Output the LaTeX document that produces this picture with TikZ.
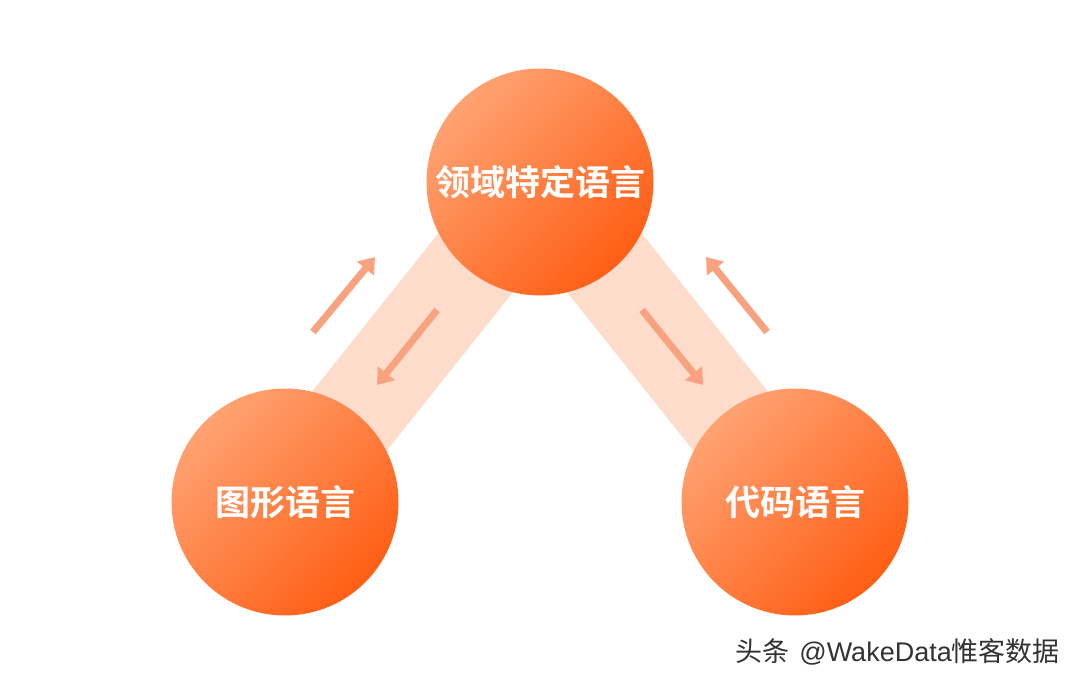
\documentclass[tikz,border=0pt]{standalone}
\usepackage{fontspec}
\newfontfamily\cjk{Noto Sans CJK SC}[BoldFont={Noto Sans CJK SC Bold}]
\newfontfamily\lat{Liberation Sans}
\usetikzlibrary{arrows.meta}
\definecolor{band}{HTML}{FDDCCB}
\definecolor{arr}{HTML}{F9A27F}
\definecolor{lite}{HTML}{FFA272}
\definecolor{dark}{HTML}{FF5E14}
\tikzset{
  ball/.style={circle, minimum size=227pt, inner sep=0pt, shading=axis,
    top color=lite, bottom color=dark, shading angle=45,
    text=white, font=\cjk\bfseries\fontsize{35}{40}\selectfont},
  bandline/.style={draw=band, line width=95pt},
  flow/.style={draw=arr, line width=7pt, -{Triangle[length=15pt,width=21pt]}}
}
\begin{document}
\begin{tikzpicture}[x=1pt,y=-1pt]
\useasboundingbox (0,0) rectangle (1080,685);
\fill[white] (0,0) rectangle (1080,685);
\coordinate (ct) at (540,182);
\coordinate (cl) at (285,502);
\coordinate (cr) at (795,502);
\draw[bandline] (ct) -- (cl);
\draw[bandline] (ct) -- (cr);
\coordinate (a1s) at (313,332);
\coordinate (a1e) at (375,257);
\coordinate (a2s) at (437,310);
\coordinate (a2e) at (377,385);
\coordinate (a3s) at (642,310);
\coordinate (a3e) at (703,385);
\coordinate (a4s) at (767,332);
\coordinate (a4e) at (706,257);
\draw[flow] (a1s) -- (a1e);
\draw[flow] (a2s) -- (a2e);
\draw[flow] (a3s) -- (a3e);
\draw[flow] (a4s) -- (a4e);
\node[ball] (top) at (ct) {领域特定语言};
\node[ball] (left) at (cl) {图形语言};
\node[ball] (right) at (cr) {代码语言};
\node[anchor=east, text=black!80, font=\cjk\fontsize{27}{30}\selectfont, inner sep=0pt] (wm) at (1060,652) {头条\hspace{10pt}{\lat @WakeData}惟客数据};
\end{tikzpicture}
\end{document}
